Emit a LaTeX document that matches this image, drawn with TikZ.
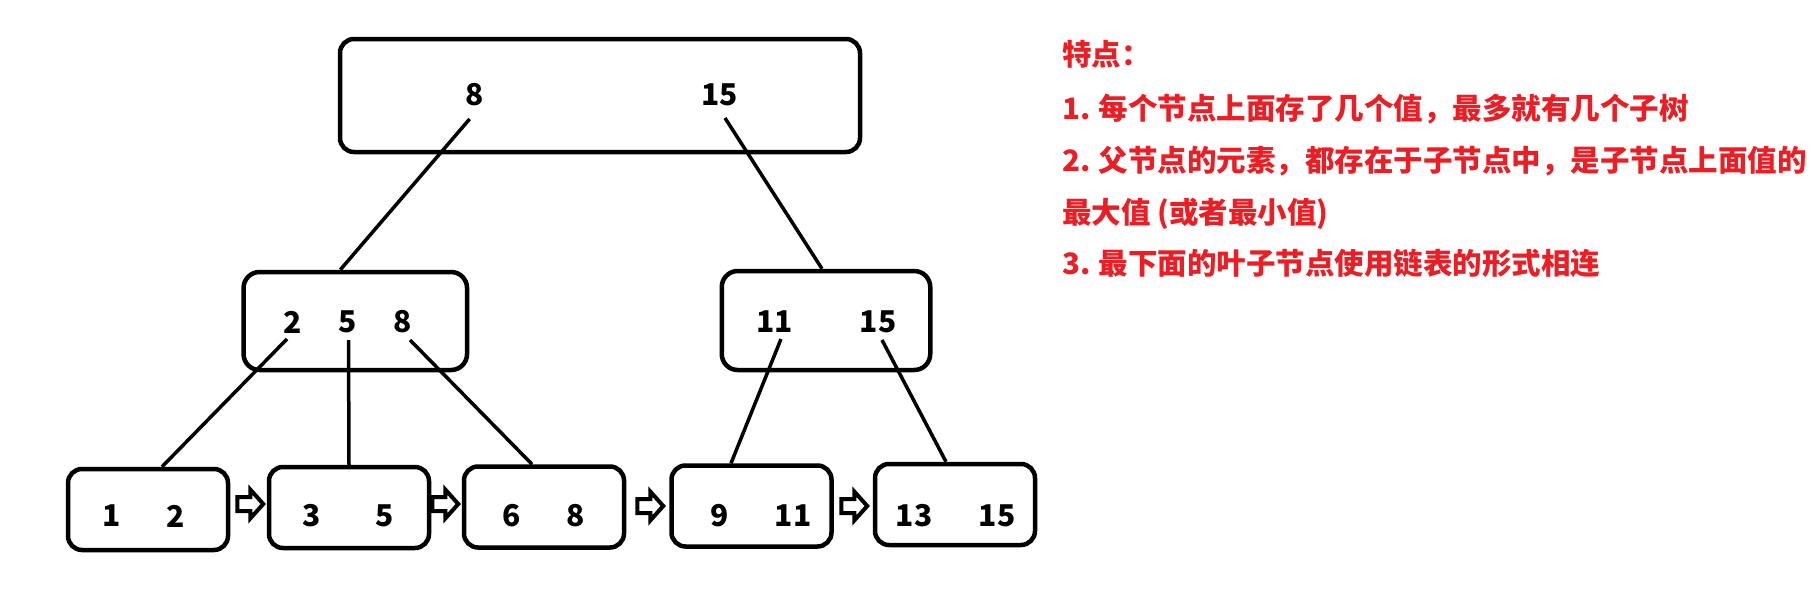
\documentclass[tikz,border=0pt]{standalone}
\usepackage{fontspec}
\newfontfamily\cjk{Noto Sans CJK SC}
\definecolor{textred}{RGB}{234,30,36}
\begin{document}
\begin{tikzpicture}[x=1pt,y=-1pt,
  box/.style={draw,line width=4.5pt,rounded corners=14pt,inner sep=0pt},
  num/.style={inner sep=0pt,font=\cjk\bfseries\fontsize{30}{30}\selectfont},
  conn/.style={line width=3.5pt},
  note/.style={anchor=base west,inner sep=0pt,text=textred,font=\cjk\bfseries\fontsize{29.5}{30}\selectfont},
  pics/blockarr/.style={code={\draw[line width=4pt,line join=miter] (0,0) -- (-13,-14.5) -- (-13,-7) -- (-26,-7) -- (-26,7) -- (-13,7) -- (-13,14.5) -- cycle;}}
]
\useasboundingbox (0,0) rectangle (1818,595);
\fill[white] (0,0) rectangle (1818,595);

% boxes
\node[box,minimum width=520pt,minimum height=113pt] (root) at (600,95.5) {};
\node[box,minimum width=223.5pt,minimum height=98pt,rounded corners=16pt] (lm) at (355.3,321) {};
\node[box,minimum width=208.5pt,minimum height=99pt,rounded corners=16pt] (rm) at (826,320.5) {};
\node[box,minimum width=160pt,minimum height=81pt] (L1) at (148,509.5) {};
\node[box,minimum width=160pt,minimum height=81pt] (L2) at (349,507.5) {};
\node[box,minimum width=160pt,minimum height=81pt] (L3) at (544,507) {};
\node[box,minimum width=160pt,minimum height=81pt] (L4) at (751.5,506) {};
\node[box,minimum width=160pt,minimum height=81pt] (L5) at (955,504.5) {};

% numbers
\node[num] (r8) at (474.6,95) {8};
\node[num] (r15) at (719.5,95) {15};
\node[num] (m2) at (293,322) {2};
\node[num] (m5) at (348,322) {5};
\node[num] (m8) at (403,322) {8};
\node[num] (m11) at (774.5,322) {11};
\node[num] (m15) at (878,322) {15};
\node[num] (a1) at (112,516) {1};
\node[num] (a2) at (176,516) {2};
\node[num] (b3) at (311.5,516) {3};
\node[num] (b5) at (385,516) {5};
\node[num] (c6) at (512,516) {6};
\node[num] (c8) at (576,516) {8};
\node[num] (d9) at (720,516) {9};
\node[num] (d11) at (793,516) {11};
\node[num] (e13) at (914,516) {13};
\node[num] (e15) at (997,516) {15};

% connectors
\draw[conn] ([shift={(-5,24)}]r8.center) -- ([xshift=-15pt]lm.north);
\draw[conn] ([shift={(5.5,23)}]r15.center) -- ([xshift=-4pt]rm.north);
\draw[conn] ([shift={(-6,17)}]m2.center) -- ([xshift=14pt]L1.north);
\draw[conn] ([shift={(0.5,18)}]m5.center) -- (L2.north);
\draw[conn] ([shift={(7,18)}]m8.center) -- ([xshift=-12pt]L3.north);
\draw[conn] ([shift={(6.5,17)}]m11.center) -- ([xshift=-20.5pt]L4.north);
\draw[conn] ([shift={(4,18)}]m15.center) -- ([xshift=-9pt]L5.north);

% linked-list arrows
\pic at ([shift={(-3.5,-3.5)}]L2.west) {blockarr};
\pic at ([shift={(-3.5,-3)}]L3.west) {blockarr};
\pic at ([shift={(-6,0)}]L4.west) {blockarr};
\pic at ([shift={(-5.5,1.5)}]L5.west) {blockarr};

% notes
\node[note] (t0) at (1062,65) {特点：};
\node[note] (t1) at (1062,119) {\makebox[36.5pt][l]{1.}每个节点上面存了几个值，最多就有几个子树};
\node[note] (t2) at (1062,171) {\makebox[36.5pt][l]{2.}父节点的元素，都存在于子节点中，是子节点上面值的};
\node[note] (t3) at (1062,223) {最大值 (或者最小值)};
\node[note] (t4) at (1062,274) {\makebox[36.5pt][l]{3.}最下面的叶子节点使用链表的形式相连};
\end{tikzpicture}
\end{document}
